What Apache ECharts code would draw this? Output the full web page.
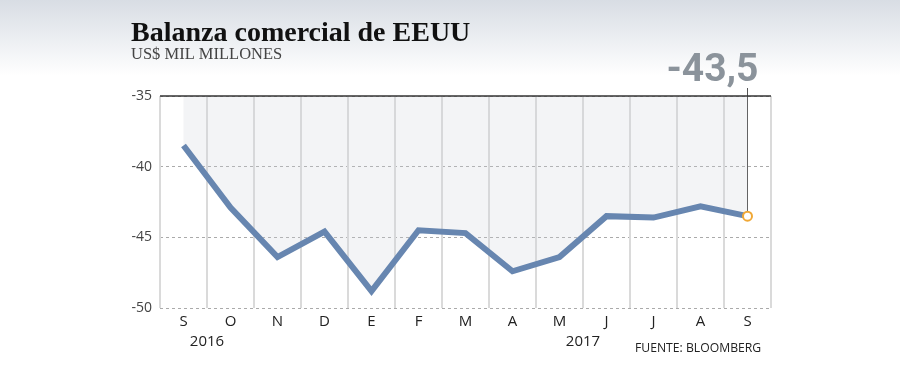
<!DOCTYPE html>
<html>
<head>
<meta charset="utf-8">
<script src="https://cdn.jsdelivr.net/npm/echarts@6/dist/echarts.min.js"></script>
<style>
html,body{margin:0;padding:0;background:#fff;}
#c{width:900px;height:388px;}
</style>
</head>
<body>
<div id="c"></div>
<script>
var categories = ['S','O','N','D','E','F','M','A','M','J','J','A','S'];
var values = [-38.5, -42.9, -46.4, -44.6, -48.8, -44.5, -44.7, -47.4, -46.4, -43.5, -43.6, -42.8, -43.5];
var yearLabels = [{text:'2016', between:[0,1]}, {text:'2017', between:[8,9]}];
var lastLabel = '-43,5';
var yTicks = {min:-50, max:-35, interval:5};

var chart = echarts.init(document.getElementById('c'), null, {renderer:'canvas'});
var lastIdx = values.length - 1;
var seriesData = values.map(function(v, i){
  if (i === lastIdx) {
    return {value: v, symbol: 'circle', symbolSize: 9,
      itemStyle: {color: '#ffffff', borderColor: '#f0a836', borderWidth: 2}};
  }
  return v;
});

var option = {
  animation: false,
  grid: {left: 160, right: 129, top: 96, bottom: 80, containLabel: false},
  xAxis: {
    type: 'category',
    data: categories,
    boundaryGap: true,
    axisLine: {show: false},
    axisTick: {show: false},
    axisLabel: {color: '#222', fontFamily: 'Open Sans', fontSize: 15, margin: 6},
    splitLine: {show: true, lineStyle: {color: '#dadada', width: 2}}
  },
  yAxis: {
    type: 'value',
    min: yTicks.min, max: yTicks.max, interval: yTicks.interval,
    axisLine: {show: false},
    axisTick: {show: false},
    axisLabel: {color: '#444', fontFamily: 'Open Sans', fontSize: 14, margin: 8},
    splitLine: {show: true, lineStyle: {color: '#aaaaaa', type: [3,3], width: 1}}
  },
  series: [{
    type: 'line',
    data: seriesData,
    symbol: 'none',
    showSymbol: true,
    lineStyle: {color: '#6786b0', width: 6, join: 'miter'},
    areaStyle: {origin: 'end', color: 'rgba(205,209,217,0.35)'},
    z: 3,
    markLine: {
      silent: true,
      symbol: 'none',
      label: {show: false},
      lineStyle: {color: '#333', type: 'solid', width: 1.5},
      data: [{yAxis: yTicks.max}]
    }
  }],
  graphic: [
    {type: 'rect', z: -10, silent: true, shape: {x: 0, y: 0, width: 900, height: 76},
      style: {fill: new echarts.graphic.LinearGradient(0, 0, 0, 1, [
        {offset: 0, color: '#d8dde4'}, {offset: 1, color: '#ffffff'}])}},
    {type: 'text', x: 131, y: 33.5, silent: true,
      style: {text: 'Balanza comercial de EEUU', font: 'bold 28px "Liberation Serif", serif', fill: '#111',
        textVerticalAlign: 'middle'}},
    {type: 'text', x: 131, y: 55, silent: true,
      style: {text: 'US$ MIL MILLONES', font: '16.5px "Liberation Serif", serif', fill: '#444',
        textVerticalAlign: 'middle'}},
    {type: 'text', x: 635, y: 349, silent: true,
      style: {text: 'FUENTE: BLOOMBERG', font: '12.2px "Open Sans", sans-serif', fill: '#222',
        textVerticalAlign: 'middle'}}
  ]
};
chart.setOption(option);

// annotations tied to data positions
var extra = [];
yearLabels.forEach(function(y){
  var a = chart.convertToPixel({xAxisIndex: 0}, y.between[0]);
  var b = chart.convertToPixel({xAxisIndex: 0}, y.between[1]);
  extra.push({type: 'text', x: (a + b) / 2, y: 342, silent: true,
    style: {text: y.text, font: '500 15px "Open Sans", sans-serif', fill: '#222',
      textAlign: 'center', textVerticalAlign: 'middle'}});
});
var p = chart.convertToPixel({seriesIndex: 0}, [lastIdx, values[lastIdx]]);
extra.push({type: 'line', silent: true, z: 2,
  shape: {x1: p[0], y1: 88, x2: p[0], y2: p[1]},
  style: {stroke: '#555', lineWidth: 1}});
extra.push({type: 'text', x: p[0] + 11, y: 71, silent: true,
  style: {text: lastLabel, font: 'bold 39px Roboto, sans-serif',
    fill: '#8b939b', textAlign: 'right', textVerticalAlign: 'middle'}});
var g = option.graphic.concat(extra);
chart.setOption({graphic: g}, {replaceMerge: ['graphic']});
</script>
</body>
</html>
